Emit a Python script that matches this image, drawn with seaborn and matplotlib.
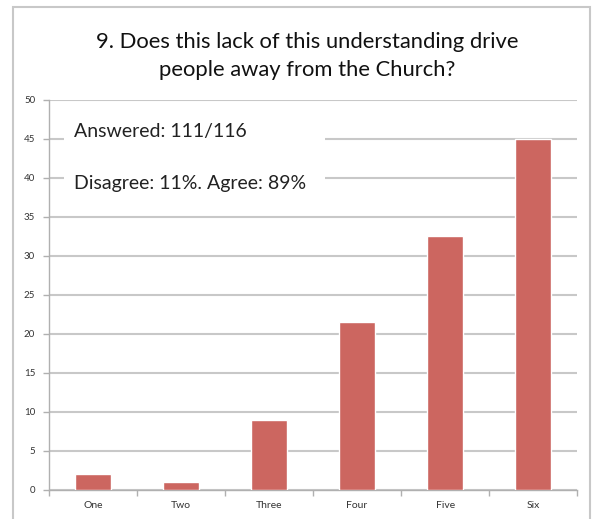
import matplotlib
matplotlib.use("Agg")
import matplotlib.pyplot as plt
import seaborn as sns
import pandas as pd
from matplotlib.patches import Rectangle

# data
categories = ["One", "Two", "Three", "Four", "Five", "Six"]
counts = [2, 1, 9, 21.5, 32.5, 45]
y_ticks = [0, 5, 10, 15, 20, 25, 30, 35, 40, 45, 50]
title = "9. Does this lack of this understanding drive\npeople away from the Church?"
note_lines = ["Answered: 111/116", "Disagree: 11%. Agree: 89%"]

sns.set_theme(style="white")
plt.rcParams['font.family'] = ['Lato', 'DejaVu Sans']

df = pd.DataFrame({"category": categories, "count": counts})

fig = plt.figure(figsize=(5.95, 5.19), dpi=100)
ax = fig.add_axes([0.0824, 0.0559, 0.8876, 0.7515])

# outer frame of the chart
fig.patches.append(Rectangle((13 / 595, -0.02), 577 / 595, 1 - 7 / 519 + 0.02,
                             transform=fig.transFigure, fill=False,
                             edgecolor='#c8c8c8', linewidth=1.5, zorder=0))

sns.barplot(data=df, x="category", y="count", color="#cc6660",
            width=0.41, saturation=1, ax=ax, zorder=3)

ax.set_ylim(0, 50)
ax.set_xlim(-0.5, len(categories) - 0.5)
ax.set_yticks(y_ticks)
ax.set_yticklabels([str(v) for v in y_ticks], fontsize=7, color='#333333')
ax.tick_params(axis='x', labelsize=7.5, colors='#333333', length=0, pad=8)
ax.tick_params(axis='y', length=4, width=1, color='#b0b0b0', pad=6, left=True)
ax.set_xticks(range(len(categories)), minor=False)
ax.set_xticks([i - 0.5 for i in range(len(categories) + 1)], minor=True)
ax.tick_params(axis='x', which='minor', length=4, width=1, color='#b0b0b0', bottom=True)
ax.set_xlabel("")
ax.set_ylabel("")

ax.yaxis.grid(True, color='#c8c8c8', linewidth=1.5)
ax.set_axisbelow(True)
for side in ['top', 'right']:
    ax.spines[side].set_visible(False)
ax.spines['left'].set_color('#b0b0b0')
ax.spines['bottom'].set_color('#b0b0b0')
ax.spines['left'].set_linewidth(1)
ax.spines['bottom'].set_linewidth(1)

# white annotation box covering the gridlines
ax.add_patch(Rectangle((-0.33, 36.0), 2.96, 12.0, facecolor='white',
                       edgecolor='none', zorder=2))
ax.text(-0.22, 46.0, note_lines[0], fontsize=14, color='#222222',
        va='center', ha='left', zorder=4)
ax.text(-0.22, 39.3, note_lines[1], fontsize=14, color='#222222',
        va='center', ha='left', zorder=4)

fig.text(0.516, 0.892, title, ha='center', va='center', fontsize=15.8,
         color='#111111', linespacing=1.45)

fig.savefig("out.png", dpi=100)
